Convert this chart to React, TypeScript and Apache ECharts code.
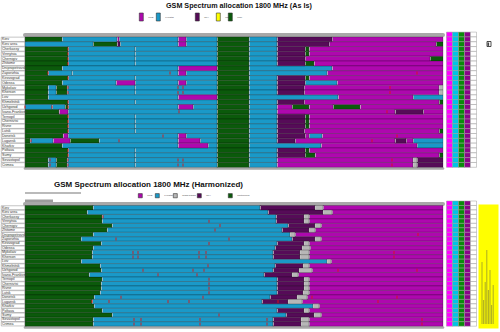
import React, { useEffect, useRef } from 'react';
import * as echarts from 'echarts';

const rowNames = ['Kiev', 'Kiev area', 'Cherkassy', 'Vinnytsia', 'Chernigiv', 'Zhitomir', 'Dnipropetrovsk', 'Zaporizhia', 'Kirovograd', 'Odessa', 'Mykolaiv', 'Kherson', 'Lviv', 'Khmelnitsk', 'Uzhgorod', 'Ivano-Frankivsk', 'Ternopil', 'Chernivtsi', 'Rivne', 'Lutsk', 'Donetsk', 'Lugansk', 'Kharkiv', 'Poltava', 'Sumy', 'Sevastopol', 'Crimea'];

// segments: operator key + cumulative end (channel slots, 0..418)
const asIsRows = [
  'G37 C92 M94 C153 M161 C192 G224 C252 P307 M418',
  'C68 G92 P95 C153 M161 C192 G224 C252 P304 M411 G418',
  'G43 C110 C192 G224 C252 P280 G284 M418',
  'G43 C110 C192 G224 C252 P280 G284 M418',
  'G43 C110 C192 G224 C252 P280 M405 G418',
  'G43 C110 C192 G224 C252 P280 G289 M418',
  'G37 C153 M192 G224 C307 M418',
  'G23 C47 C153 M161 C192 G224 C302 M418',
  'G43 C110 C192 G224 C252 P280 G284 M418',
  'G37 C91 M110 C153 M161 C192 G224 C252 P280 C312 M418',
  'G23 C31 G42 C110 C192 G224 C252 P279 M414 S418',
  'G23 C31 G42 C110 C192 G224 C252 P279 M414 S418',
  'G23 C153 M192 G224 C313 M388 C418',
  'G43 C110 C192 G224 C252 P279 M414 G418',
  'C27 C40 G43 C153 M168 C192 G224 C252 M267 G284 M308 G335 M418',
  'G34 M43 C192 G224 C252 M370 P398 M418',
  'G43 C110 C192 G224 C252 P280 G284 M418',
  'G43 C110 C192 G224 C252 P280 G284 M418',
  'G43 C110 C192 G224 C252 P280 G284 M418',
  'G43 C110 C192 G224 C252 P279 M414 G418',
  'G38 M43 C153 M161 C192 G224 C252 P280 M284 C297 M418',
  'G5 C28 M45 G74 C153 M175 C192 G224 C252 P270 M370 P381 M388 C418',
  'G37 C153 M183 C192 G224 C296 M392 C418',
  'G43 C110 C192 G224 C252 P280 G284 M418',
  'G43 C110 C192 G224 C252 P280 G290 M414 G418',
  'G23 C31 G42 C110 C192 G224 C252 M388 S392 P418',
  'G23 C31 G42 C110 C192 G224 C252 M388 S392 P418',
];

const harmonizedRows = [
  'G68 C235 P290 S298 M418',
  'G62 C243 P298 S307 M418',
  'G77 C251 P279 S284 M418',
  'G77 C251 P279 S284 M418',
  'G87 C263 P290 S296 M418',
  'G82 C257 P284 S290 M418',
  'G68 C265 S270 M418',
  'G56 C267 P290 S296 M418',
  'G76 C252 P279 S284 M418',
  'G68 C250 P277 S285 M418',
  'G67 C248 P275 S284 M418',
  'G67 C248 P275 S284 M418',
  'G56 C302 S306 M418',
  'G75 C250 P278 S284 M418',
  'G76 C248 P274 S287 M418',
  'G64 C239 P267 S273 M418',
  'G77 C252 P279 S284 M418',
  'G76 C252 P279 S284 M418',
  'G76 C252 P279 S284 M418',
  'G75 C252 P278 S284 M418',
  'G69 C245 P272 S282 M418',
  'G67 C237 P263 S277 M418',
  'G69 C288 S294 M418',
  'G77 C252 P279 S284 M418',
  'G87 C261 P289 S296 M418',
  'G68 C248 P276 S284 M418',
  'G68 C248 P276 S284 M418',
];

// red interference marks: [slot, row]
const asIsMarks = [
  [43, 2], [43, 3], [43, 4], [43, 5], [43, 8], [43, 13], [43, 16], [43, 17], [43, 18], [43, 19], [43, 23], [43, 24],
  [43, 10], [43, 11], [43, 25], [43, 26], [23, 7], [145, 7], [392, 7], [153, 10], [158, 10], [153, 11], [158, 11],
  [365, 10], [365, 11], [0, 14], [27, 14], [43, 14], [154, 15], [362, 15], [138, 20], [372, 20], [6, 21], [94, 21],
  [347, 21], [25, 25], [153, 25], [158, 25], [367, 25], [25, 26], [153, 26], [158, 26], [367, 26],
];
const harmonizedMarks = [
  [78, 2], [184, 3], [195, 4], [190, 5], [393, 6], [91, 7], [204, 7], [184, 8], [108, 10], [113, 10], [174, 10], [181, 10],
  [369, 10], [108, 11], [113, 11], [174, 11], [181, 11], [369, 11], [183, 13], [118, 14], [168, 14], [179, 14], [313, 14],
  [392, 14], [133, 15], [172, 15], [184, 16], [184, 17], [184, 18], [184, 19], [96, 20], [178, 20], [287, 20], [372, 20],
  [67, 21], [84, 21], [143, 21], [164, 21], [253, 21], [353, 21], [194, 24], [109, 25], [116, 25], [175, 25], [242, 25],
  [397, 25], [109, 26], [116, 26], [175, 26], [242, 26], [397, 26],
];

const asIsNames: Record<string, string> = { M: 'MTS', C: 'Kyivstar', P: 'life:)', Y: 'URS', G: 'UTel', S: 'guard bands' };
const harmonizedNames: Record<string, string> = { M: 'MTS', C: 'Kyivstar', S: 'guard bands', P: 'life:)', G: 'Ukrtelecom' };
const tableColumns = ['M', 'C', 'G', 'P', 'W'];

const COLORS: Record<string, string> = {
  G: '#0b5a0b', C: '#1a99c8', M: '#ae08ae', P: '#560b58', Y: '#ffff00', S: '#b7b7b7',
};
const TABLE_COLORS: Record<string, string> = { M: '#ff00ff', C: '#00c4e6', G: '#0a8c0a', P: '#8a048a', W: '#ffffff' };

function parseRows(rows: string[]) {
  const out: Record<string, number[][]> = {};
  rows.forEach((r, i) => {
    let start = 0;
    r.split(' ').forEach((tok) => {
      const k = tok[0];
      const end = +tok.slice(1);
      (out[k] = out[k] || []).push([i, start, end]);
      start = end;
    });
  });
  return out;
}

function segRender(color: string) {
  return (params: any, api: any) => {
    const row = api.value(0);
    const s = api.value(1);
    const e = api.value(2);
    const a = api.coord([s, row]);
    const b = api.coord([e, row]);
    const h = api.size([0, 1])[1];
    const children: any[] = [
      { type: 'rect', shape: { x: a[0], y: a[1] - h / 2, width: b[0] - a[0], height: h }, style: { fill: color, stroke: 'rgba(0,0,0,0.45)', lineWidth: 0.5 } },
    ];
    if (s > 0) {
      children.push({ type: 'line', shape: { x1: a[0] + 0.4, y1: a[1] - h / 2 + 0.5, x2: a[0] + 0.4, y2: a[1] + h / 2 - 0.5 }, style: { stroke: '#d0d0d0', lineWidth: 0.8 } });
    }
    return { type: 'group', children };
  };
}

function tableRender(params: any, api: any) {
  const c = api.value(0);
  const r = api.value(1);
  const p = api.coord([c, r]);
  const sz = api.size([1, 1]);
  return {
    type: 'rect',
    shape: { x: p[0] - sz[0] / 2, y: p[1] - sz[1] / 2, width: sz[0], height: sz[1] },
    style: { fill: TABLE_COLORS[tableColumns[c]], stroke: '#9a9a9a', lineWidth: 0.5 },
  };
}

function buildPanel(opt: any, rows: string[], marks: number[][], names: Record<string, string>, keys: string[], g: { top: number; height: number; tableTop: number; tableHeight: number }) {
  const base = opt.grid.length;
  opt.grid.push({ left: 1, width: 24, top: g.top, height: g.height });
  opt.grid.push({ left: 25, width: 418, top: g.top, height: g.height });
  opt.grid.push({ left: 446.5, width: 30, top: g.tableTop, height: g.tableHeight });
  const xb = opt.xAxis.length;
  const yb = opt.yAxis.length;
  opt.xAxis.push({ gridIndex: base, type: 'value', min: 0, max: 1, show: false });
  opt.xAxis.push({
    gridIndex: base + 1, type: 'value', min: 0, max: 418, position: 'top', offset: 2,
    axisLine: { show: true, lineStyle: { color: '#a8a8a8', width: 4 } }, axisTick: { show: false }, axisLabel: { show: false }, splitLine: { show: false },
  });
  opt.xAxis.push({
    gridIndex: base + 1, type: 'value', min: 0, max: 418, position: 'bottom', offset: 1.3,
    axisLine: { show: true, lineStyle: { color: '#a8a8a8', width: 2.6 } }, axisTick: { show: false }, axisLabel: { show: false }, splitLine: { show: false },
  });
  opt.xAxis.push({ gridIndex: base + 2, type: 'category', data: tableColumns, show: false });
  opt.yAxis.push({ gridIndex: base, type: 'category', data: rowNames, inverse: true, show: false });
  opt.yAxis.push({ gridIndex: base + 1, type: 'category', data: rowNames, inverse: true, show: false });
  opt.yAxis.push({
    gridIndex: base + 1, type: 'category', data: rowNames, inverse: true, position: 'right', offset: 1.6,
    axisLine: { show: true, lineStyle: { color: '#c6c6c6', width: 3 } }, axisTick: { show: false }, axisLabel: { show: false },
  });
  opt.yAxis.push({ gridIndex: base + 2, type: 'category', data: ['', ...rowNames], inverse: true, show: false });

  opt.series.push({
    type: 'bar', xAxisIndex: xb, yAxisIndex: yb, silent: true, barWidth: '100%',
    data: rowNames.map(() => 1),
    itemStyle: { color: '#ffffff', borderColor: '#8a8a8a', borderWidth: 0.5 },
    label: { show: true, position: 'insideLeft', distance: 1, formatter: '{b}', fontSize: 3.6, color: '#333', fontFamily: 'Arial' },
  });
  const segs = parseRows(rows);
  keys.forEach((k) => {
    opt.series.push({
      type: 'custom', name: names[k], xAxisIndex: xb + 1, yAxisIndex: yb + 1, silent: true,
      itemStyle: { color: COLORS[k] }, encode: { x: [1, 2], y: 0 },
      renderItem: segRender(COLORS[k]), data: segs[k] || [],
    });
  });
  opt.series.push({
    type: 'scatter', xAxisIndex: xb + 1, yAxisIndex: yb + 1, silent: true, symbol: 'rect', symbolSize: [1.1, 3],
    itemStyle: { color: '#e31010' }, data: marks,
  });
  const tdata: number[][] = [];
  for (let r = 0; r <= rowNames.length; r++) for (let c = 0; c < tableColumns.length; c++) tdata.push([c, r]);
  opt.series.push({
    type: 'custom', xAxisIndex: xb + 3, yAxisIndex: yb + 3, silent: true, renderItem: tableRender, data: tdata, encode: { x: 0, y: 1 },
  });
}

export default function App() {
  const ref = useRef<HTMLDivElement>(null);
  useEffect(() => {
    document.body.style.margin = '0';
    if (!ref.current) return;
    const chart = echarts.init(ref.current, null, { renderer: 'svg' });
    const opt: any = { animation: false, grid: [], xAxis: [], yAxis: [], series: [] };
    buildPanel(opt, asIsRows, asIsMarks, asIsNames, ['G', 'C', 'M', 'P', 'S', 'Y'], { top: 36.9, height: 130.4, tableTop: 32.1, tableHeight: 135.2 });
    buildPanel(opt, harmonizedRows, harmonizedMarks, harmonizedNames, ['G', 'C', 'M', 'P', 'S'], { top: 205.5, height: 120.7, tableTop: 201, tableHeight: 125.2 });
    opt.title = [
      { text: 'GSM Spectrum allocation 1800 MHz (As Is)', left: 166, top: 2, padding: 0, textStyle: { fontSize: 7.2, fontWeight: 'bold', fontFamily: 'Arial', color: '#111' } },
      { text: 'GSM Spectrum allocation 1800 MHz (Harmonized)', left: 54, top: 180.5, padding: 0, textStyle: { fontSize: 8, fontWeight: 'bold', fontFamily: 'Arial', color: '#111' } },
    ];
    const legendBase = { padding: 0, itemGap: 0, icon: 'rect', selectedMode: false, itemStyle: { borderColor: '#333', borderWidth: 0.6 }, textStyle: { fontSize: 2.4, color: '#444', fontFamily: 'Arial' } };
    const topLeg: [string, number][] = [['M', 139], ['C', 156], ['P', 195], ['Y', 216], ['G', 228]];
    const botLeg: [string, number][] = [['M', 138], ['C', 155], ['S', 173], ['P', 197], ['G', 228]];
    opt.legend = [
      ...topLeg.map(([k, x]) => ({ ...legendBase, data: [asIsNames[k]], left: x, top: 12.7, itemWidth: 4, itemHeight: 8 })),
      ...botLeg.map(([k, x]) => ({ ...legendBase, data: [harmonizedNames[k]], left: x, top: 193.3, itemWidth: 4, itemHeight: 4.2 })),
    ];
    const noteLines = [262, 300, 282, 250, 290, 270, 305, 285];
    opt.graphic = [
      { type: 'rect', shape: { x: 25, y: 192.6, width: 56, height: 1 }, style: { fill: '#777' }, silent: true },
      { type: 'rect', shape: { x: 25, y: 199.5, width: 28, height: 2.6 }, style: { fill: '#9c9c9c' }, silent: true },
      { type: 'rect', shape: { x: 487, y: 41.5, width: 4, height: 5 }, style: { fill: '#fff', stroke: '#222', lineWidth: 0.8 }, silent: true },
      { type: 'rect', shape: { x: 487.5, y: 42.5, width: 1.6, height: 3.4 }, style: { fill: '#444' }, silent: true },
      { type: 'rect', shape: { x: 478.5, y: 204.5, width: 20, height: 124 }, style: { fill: '#ffff00' }, silent: true },
      ...noteLines.map((t, i) => ({ type: 'line', shape: { x1: 482 + i * 1.6, y1: t, x2: 482 + i * 1.6, y2: 324 }, style: { stroke: '#8a8a30', lineWidth: 0.7 }, silent: true })),
    ];
    chart.setOption(opt);
    return () => chart.dispose();
  }, []);
  return <div ref={ref} style={{ width: 500, height: 332 }} />;
}
